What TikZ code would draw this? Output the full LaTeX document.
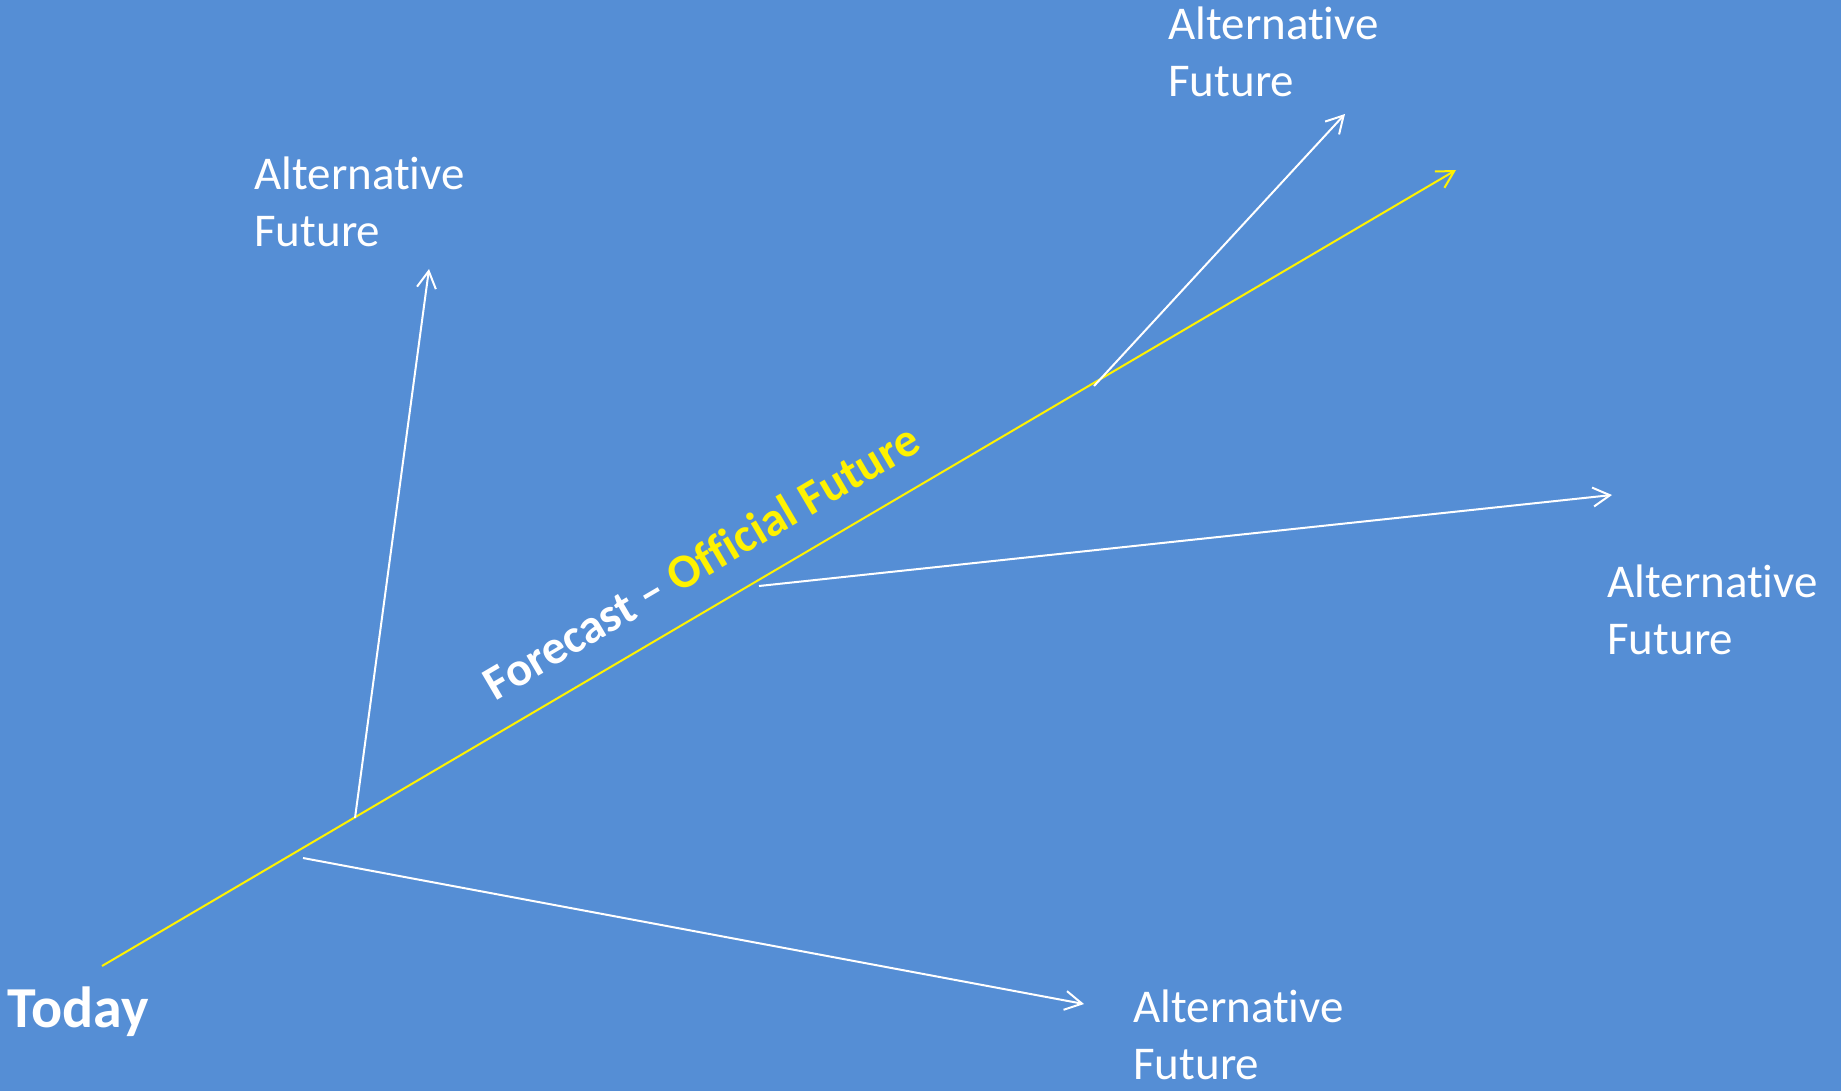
\documentclass[tikz,border=0pt]{standalone}
\usepackage{fontspec}
\setmainfont{Carlito}[RawFeature={-liga}]
\usetikzlibrary{arrows.meta}
\definecolor{bgblue}{RGB}{85,142,213}
\begin{document}
\begin{tikzpicture}[x=0.5pt,y=-0.5pt,
  branch/.style={draw=white,line width=1pt,-{Straight Barb[length=8.5pt,width=9.5pt]}},
  official/.style={draw=yellow,line width=1pt,-{Straight Barb[length=8.5pt,width=9.5pt]}},
  altlabel/.style={text=white,inner sep=0pt,anchor=base west,font=\fontsize{23.5}{28.5}\selectfont},
  todaylabel/.style={text=white,inner sep=0pt,anchor=base west,font=\fontsize{29}{35}\selectfont\bfseries},
  fclabel/.style={text=white,inner sep=0pt,anchor=center,rotate=30.45,font=\fontsize{24}{29}\selectfont\bfseries}
]
\fill[bgblue] (0,0) rectangle (1841,1091);
\useasboundingbox (0,0) rectangle (1841,1091);

% coordinates
\coordinate (t0) at (102,966);
\coordinate (t1) at (1456,170);
\coordinate (b1s) at (355,818);
\coordinate (b1e) at (429,269);
\coordinate (b2s) at (1094,386);
\coordinate (b2e) at (1345,114);
\coordinate (b3s) at (759,586);
\coordinate (b3e) at (1612,495);
\coordinate (b4s) at (303,858);
\coordinate (b4e) at (1084,1004);

% official forecast line
\draw[official] (t0) -- (t1);
% branches
\draw[branch] (b1s) -- (b1e);
\draw[branch] (b2s) -- (b2e);
\draw[branch] (b3s) -- (b3e);
\draw[branch] (b4s) -- (b4e);

% labels
\node[todaylabel] (today) at (7,1027) {Today};
\node[fclabel] (fc) at (701,561) {Forecast – \textcolor{yellow}{Official Future}};
\node[altlabel] (altA) at (254,190) {\begin{tabular}[t]{@{}l@{}}Alternative\\Future\end{tabular}};
\node[altlabel] (altB) at (1168,40) {\begin{tabular}[t]{@{}l@{}}Alternative\\Future\end{tabular}};
\node[altlabel] (altC) at (1607,597) {\begin{tabular}[t]{@{}l@{}}Alternative\\Future\end{tabular}};
\node[altlabel] (altD) at (1133,1022) {\begin{tabular}[t]{@{}l@{}}Alternative\\Future\end{tabular}};
\end{tikzpicture}
\end{document}
